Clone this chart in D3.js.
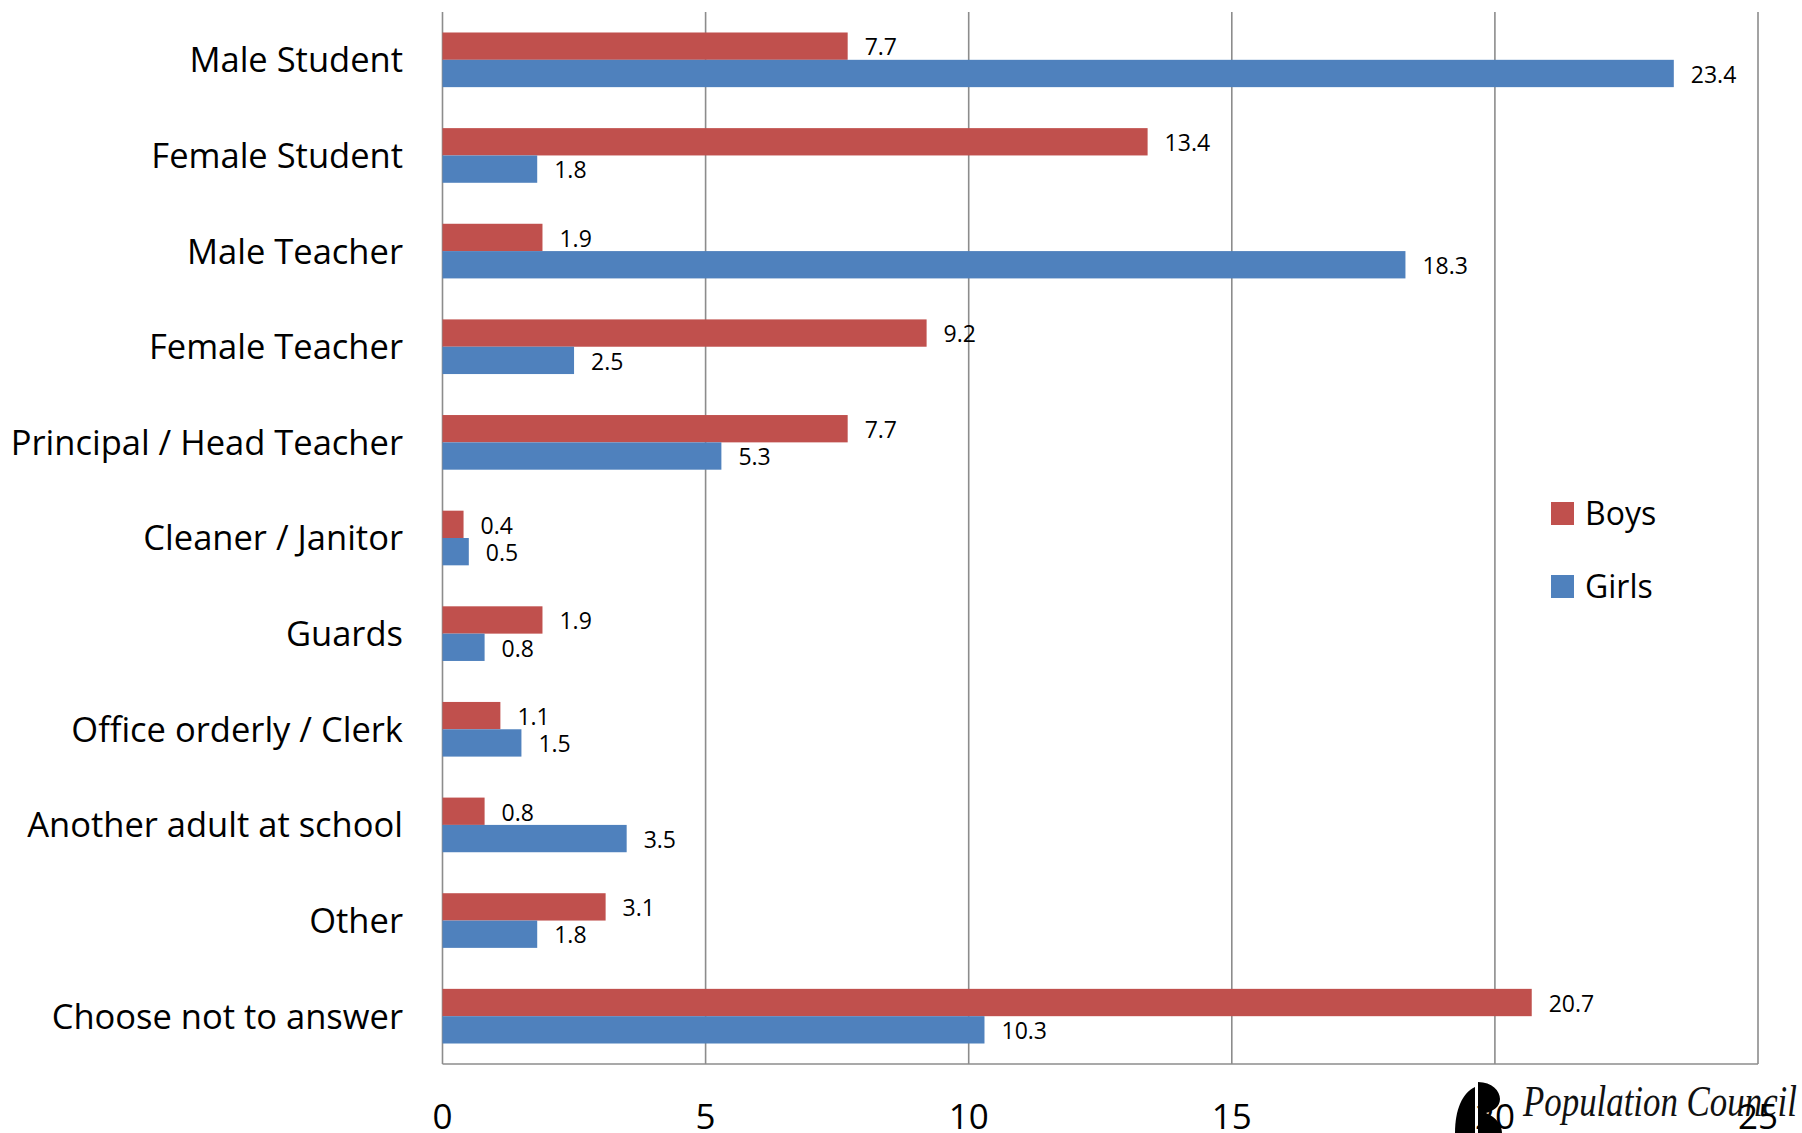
<!DOCTYPE html>
<html>
<head>
<meta charset="utf-8">
<script src="https://cdn.jsdelivr.net/npm/d3@7"></script>
<style>
  html, body { margin: 0; padding: 0; background: #fff; }
  svg { display: block; }
  text { font-family: "Open Sans", sans-serif; fill: #000; }
</style>
</head>
<body>
<svg id="chart" width="1802" height="1133"></svg>
<script>
const categories = ["Male Student", "Female Student", "Male Teacher", "Female Teacher",
  "Principal / Head Teacher", "Cleaner / Janitor", "Guards", "Office orderly / Clerk",
  "Another adult at school", "Other", "Choose not to answer"];
const seriesNames = ["Boys", "Girls"];
const boys  = [7.7, 13.4, 1.9, 9.2, 7.7, 0.4, 1.9, 1.1, 0.8, 3.1, 20.7];
const girls = [23.4, 1.8, 18.3, 2.5, 5.3, 0.5, 0.8, 1.5, 3.5, 1.8, 10.3];
const xTicks = [0, 5, 10, 15, 20, 25];
const colors = ["#C0504D", "#4F81BD"];

(function () {
const rows = categories.map((c, i) => ({ cat: c, vals: [boys[i], girls[i]] }));

const svg = d3.select("#chart");
const plotLeft = 442.5, plotRight = 1758, plotTop = 12, plotBottom = 1064;

const x = d3.scaleLinear().domain([0, 25]).range([plotLeft, plotRight]);
const gap = 1.5 / 3.5;
const y = d3.scaleBand().domain(categories).range([plotTop, plotBottom])
  .paddingInner(gap).paddingOuter(gap / 2);
const ySub = d3.scaleBand().domain(seriesNames).range([0, y.bandwidth()]);

// gridlines
svg.append("g").selectAll("line").data(xTicks).join("line")
  .attr("x1", d => x(d)).attr("x2", d => x(d))
  .attr("y1", plotTop).attr("y2", plotBottom)
  .attr("stroke", "#8c8c8c").attr("stroke-width", 1.6);

// bottom axis line
svg.append("line").attr("x1", plotLeft).attr("x2", plotRight)
  .attr("y1", plotBottom).attr("y2", plotBottom)
  .attr("stroke", "#8c8c8c").attr("stroke-width", 1.6);

// bars
const groups = svg.append("g").selectAll("g").data(rows).join("g")
  .attr("transform", d => `translate(0,${y(d.cat)})`);

groups.selectAll("rect").data(d => d.vals.map((v, j) => ({ v, s: seriesNames[j], j })))
  .join("rect")
  .attr("x", x(0))
  .attr("y", d => ySub(d.s))
  .attr("width", d => x(d.v) - x(0))
  .attr("height", ySub.bandwidth())
  .attr("fill", d => colors[d.j]);

groups.selectAll("text").data(d => d.vals.map((v, j) => ({ v, s: seriesNames[j], j })))
  .join("text")
  .attr("x", d => x(d.v) + 17)
  .attr("y", d => ySub(d.s) + ySub.bandwidth() / 2 + 1)
  .attr("dy", "0.36em")
  .attr("font-size", 23)
  .text(d => d.v.toFixed(1));

// category labels
svg.append("g").selectAll("text").data(categories).join("text")
  .attr("x", 403)
  .attr("y", d => y(d) + y.bandwidth() / 2)
  .attr("dy", "0.36em")
  .attr("text-anchor", "end")
  .attr("font-size", 34.5)
  .text(d => d);

// legend
const lg = svg.append("g").selectAll("g").data(seriesNames).join("g")
  .attr("transform", (d, i) => `translate(1551,${502 + i * 73})`);
lg.append("rect").attr("width", 23).attr("height", 23).attr("fill", (d, i) => colors[i]);
lg.append("text").attr("x", 34).attr("y", 11.5).attr("dy", "0.36em")
  .attr("font-size", 32).text(d => d);

// Population Council logo
const logo = svg.append("g");
logo.append("path")
  .attr("d", "M1475,1087 C1462,1093 1455,1110 1455,1133 L1475,1133 Z")
  .attr("fill", "#000");
logo.append("path")
  .attr("d", "M1478,1082 C1492,1082 1500,1091 1500,1099 C1500,1107 1493,1111 1486,1113 C1496,1117 1502,1125 1502,1133 L1478,1133 Z")
  .attr("fill", "#000");
logo.append("text")
  .attr("x", 1523).attr("y", 1116)
  .attr("font-style", "italic")
  .attr("font-size", 45)
  .attr("textLength", 274)
  .attr("lengthAdjust", "spacingAndGlyphs")
  .style("font-family", "'Liberation Serif', serif")
  .style("fill", "#111")
  .text("Population Council");

// x tick labels
svg.append("g").selectAll("text").data(xTicks).join("text")
  .attr("x", d => x(d))
  .attr("y", 1116)
  .attr("dy", "0.36em")
  .attr("text-anchor", "middle")
  .attr("font-size", 35)
  .text(d => d);
})();
</script>
</body>
</html>
